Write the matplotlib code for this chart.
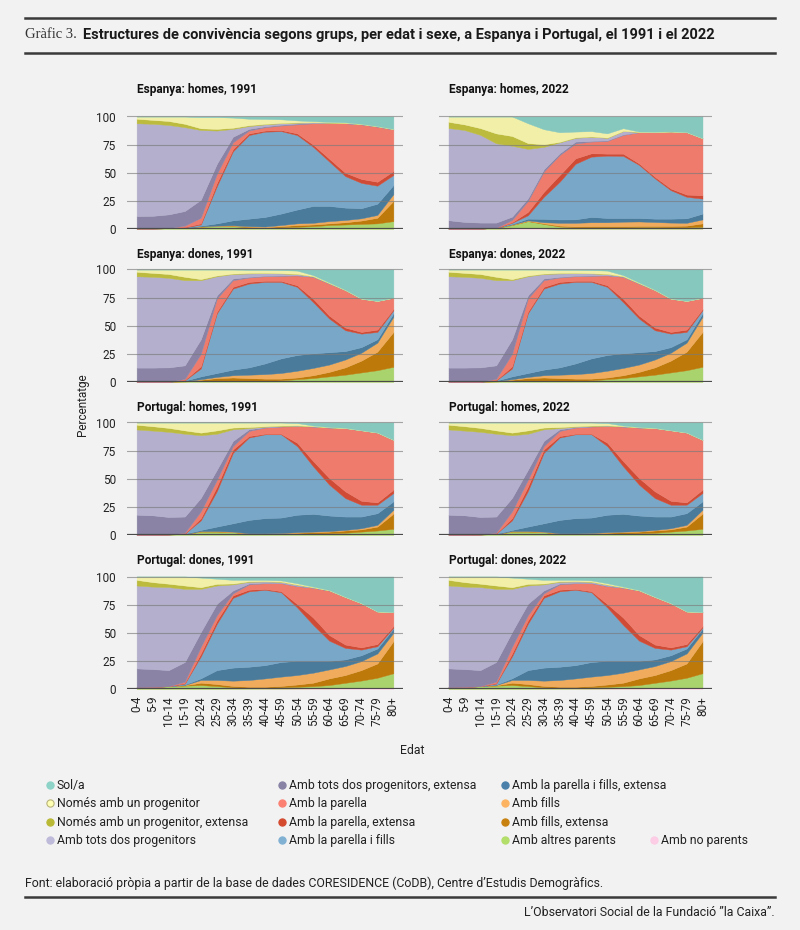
import numpy as np
import matplotlib
matplotlib.use('Agg')
import matplotlib.pyplot as plt
from matplotlib import font_manager
from matplotlib.lines import Line2D

# ---------------- data ----------------
age_labels = ['0-4', '5-9', '10-14', '15-19', '20-24', '25-29', '30-34', '35-39',
              '40-44', '45-59', '50-54', '55-59', '60-64', '65-69', '70-74', '75-79', '80+']

# stacking order, bottom -> top
categories = ['Amb no parents', 'Amb altres parents', 'Amb fills, extensa', 'Amb fills',
              'Amb la parella i fills, extensa', 'Amb la parella i fills',
              'Amb la parella, extensa', 'Amb la parella',
              'Amb tots dos progenitors, extensa', 'Amb tots dos progenitors',
              'Només amb un progenitor, extensa', 'Només amb un progenitor', 'Sol/a']

area_colors = {
    'Sol/a': '#86c8bd', 'Només amb un progenitor': '#f2f0a8',
    'Només amb un progenitor, extensa': '#bcbb3e', 'Amb tots dos progenitors': '#b3afcc',
    'Amb tots dos progenitors, extensa': '#8a83a6', 'Amb la parella': '#ee7b6c',
    'Amb la parella, extensa': '#cf4b35', 'Amb la parella i fills': '#78a7c8',
    'Amb la parella i fills, extensa': '#4a7b9b', 'Amb fills': '#f0ab5c',
    'Amb fills, extensa': '#bd7a0a', 'Amb altres parents': '#a9d36c',
    'Amb no parents': '#f8c8de'}

legend_colors = {
    'Sol/a': '#8dd3c7', 'Només amb un progenitor': '#ffffb3',
    'Només amb un progenitor, extensa': '#b9b936', 'Amb tots dos progenitors': '#bebada',
    'Amb tots dos progenitors, extensa': '#8882a5', 'Amb la parella': '#fb8072',
    'Amb la parella, extensa': '#d44a2f', 'Amb la parella i fills': '#80b1d3',
    'Amb la parella i fills, extensa': '#4a80aa', 'Amb fills': '#fdb462',
    'Amb fills, extensa': '#c8800e', 'Amb altres parents': '#b3de69',
    'Amb no parents': '#fccde5'}

espanya_homes_1991 = {
    'Amb no parents': [0, 0, 0, 0, 0, 0, 0, 0, 0, 0, 0, 0, 0, 0, 0, 0, 0],
    'Amb altres parents': [0.5, 0.5, 0.7, 1, 2, 2.5, 2.5, 1.5, 1, 1.5, 2, 2.5, 3.5, 4, 4.5, 5, 7],
    'Amb fills, extensa': [0, 0, 0, 0, 0.2, 0.3, 0.5, 0.5, 0.5, 1, 1.5, 1.5, 1.5, 2, 3, 5, 18],
    'Amb fills': [0, 0, 0, 0, 0.2, 0.2, 0.3, 0.5, 0.7, 1, 1.5, 1.5, 2, 2, 2, 2.5, 6],
    'Amb la parella i fills, extensa': [0, 0, 0, 0.2, 0.6, 2, 4.4, 6.7, 8.5, 10.2, 12.3, 15, 13.5, 11, 9, 10, 8],
    'Amb la parella i fills': [0, 0, 0, 0.3, 1, 33, 61.3, 74.3, 75.8, 73.3, 66.2, 52.5, 39.5, 28, 22.5, 16, 9],
    'Amb la parella, extensa': [0, 0, 0, 0.2, 1, 3, 2, 1.5, 1, 1, 1.5, 2, 2.5, 3, 3.5, 3.5, 3.5],
    'Amb la parella': [0, 0, 0, 1.3, 5, 8, 6, 2.5, 3, 4, 8, 19, 31.5, 44, 48.5, 49, 37],
    'Amb tots dos progenitors, extensa': [11, 11.2, 12.3, 13, 16, 9, 5, 1.5, 0.8, 0.7, 0.7, 0.3, 0.2, 0.1, 0.1, 0.1, 0.1],
    'Amb tots dos progenitors': [82.5, 81.8, 79.5, 74.5, 62, 29.5, 7, 2.5, 1.7, 1.3, 0.8, 0.5, 0.3, 0.2, 0.2, 0.2, 0.2],
    'Només amb un progenitor, extensa': [4, 3.5, 3.5, 3, 1.5, 1.5, 1, 0.8, 0.5, 0.3, 0.3, 0.2, 0.2, 0.1, 0.1, 0.1, 0.1],
    'Només amb un progenitor': [2, 3, 4, 6.5, 10, 10.5, 9, 5.7, 4.3, 3.2, 1.7, 0.8, 0.5, 0.4, 0.1, 0.1, 0.1],
    'Sol/a': [0, 0, 0, 0, 0.5, 0.5, 1, 2, 2.2, 2.5, 3.5, 4.2, 4.8, 5.2, 6.5, 8.5, 11],
}

espanya_homes_2022 = {
    'Amb no parents': [0, 0, 0, 0, 0.5, 1, 0.5, 0.2, 0.2, 0.2, 0.2, 0.2, 0.2, 0.2, 0.2, 0.2, 0.3],
    'Amb altres parents': [0.3, 0.3, 0.4, 1, 3, 6, 4, 2, 1.3, 1.3, 1.3, 1.3, 1.5, 1.5, 1.3, 1.3, 1.7],
    'Amb fills, extensa': [0, 0, 0, 0, 0.2, 0.2, 0.5, 0.8, 0.8, 1, 1, 1, 1, 1, 1.2, 1.5, 3],
    'Amb fills': [0, 0, 0, 0, 0.3, 0.5, 1, 2.5, 3.2, 3.5, 3.5, 4, 4, 3.5, 3, 2.5, 3.5],
    'Amb la parella i fills, extensa': [0, 0, 0, 0, 0.5, 1.5, 3, 3, 3.1, 4.7, 3.8, 3.3, 3.1, 3, 3.5, 4, 5.2],
    'Amb la parella i fills': [0, 0, 0, 0, 1, 3, 19.6, 33.5, 49.4, 53.6, 55.4, 55.2, 47.2, 35.8, 25.3, 19.1, 13.3],
    'Amb la parella, extensa': [0, 0, 0, 0, 0.5, 3, 4.4, 6, 4.8, 3, 1.8, 2, 1.3, 1.4, 1.5, 2, 3],
    'Amb la parella': [0, 0, 0, 0, 2, 9.7, 18, 17.8, 13.2, 10.4, 11.3, 16.6, 27.7, 39.6, 50.6, 55.4, 50.6],
    'Amb tots dos progenitors, extensa': [7.5, 6, 5.3, 4.7, 3, 2.3, 2, 1.5, 1.7, 0.6, 0.5, 0.4, 0.1, 0.1, 0, 0, 0],
    'Amb tots dos progenitors': [82, 81.7, 78, 70.5, 63, 44, 20, 9.7, 3.3, 3.7, 2.2, 3, 0.2, 0.1, 0.1, 0.1, 0.1],
    'Només amb un progenitor, extensa': [5.5, 5, 6, 8.8, 8.7, 5.2, 2.3, 0.5, 0.5, 0.3, 0.3, 0.2, 0.1, 0.1, 0, 0, 0],
    'Només amb un progenitor': [4.7, 7, 10.3, 15, 17.3, 17.6, 13.4, 8.5, 5.1, 4.7, 3.7, 2.4, 0.2, 0.2, 0.1, 0.1, 0.1],
    'Sol/a': [0, 0, 0, 0, 0, 6, 11.3, 14, 13.4, 13, 15, 10.4, 13.4, 13.5, 13.2, 13.8, 19.2],
}

espanya_dones_1991 = {
    'Amb no parents': [0, 0, 0, 0, 0, 0, 0, 0, 0, 0, 0, 0, 0, 0, 0, 0, 0],
    'Amb altres parents': [0.3, 0.3, 0.3, 0.5, 1, 1.3, 1, 0.8, 1, 1.5, 2.5, 3.5, 5, 6.5, 8.5, 10.5, 13.5],
    'Amb fills, extensa': [0, 0, 0, 0.2, 1, 2.2, 3, 2.7, 2, 1.5, 1.5, 2.5, 4, 6.5, 10.5, 16.5, 31],
    'Amb fills': [0, 0, 0, 0.2, 0.5, 1, 2, 3, 4, 5, 6, 6.5, 6.5, 7, 7, 8, 13.5],
    'Amb la parella i fills, extensa': [0, 0, 0, 0.3, 2.5, 3.5, 5, 6.5, 9.5, 13, 14, 13, 11, 7.5, 5, 3, 3],
    'Amb la parella i fills': [0, 0, 0, 0.3, 7, 53, 72, 74.5, 72.5, 68, 60.6, 45.5, 29.9, 18.5, 12, 6.5, 2.8],
    'Amb la parella, extensa': [0, 0, 0, 0.3, 2, 1.6, 1.6, 1.5, 1, 1, 1.4, 3, 2.6, 2.4, 1.5, 2.1, 1.2],
    'Amb la parella': [0, 0, 0, 1, 11, 11.6, 5.9, 3.9, 4, 4.4, 8.7, 19.5, 28.5, 33.2, 29.5, 25.4, 9.8],
    'Amb tots dos progenitors, extensa': [12.5, 12.5, 12.7, 12, 13, 2.8, 1.5, 0.6, 0.4, 0.3, 0.3, 0.2, 0.1, 0, 0, 0, 0],
    'Amb tots dos progenitors': [81.2, 80.7, 79.6, 75.7, 52.5, 17, 4, 3, 2.3, 1.8, 1, 0.3, 0.3, 0.1, 0.1, 0.1, 0.1],
    'Només amb un progenitor, extensa': [4, 3.5, 3.4, 3, 1, 0.7, 0.4, 0.5, 0.3, 0.2, 0.2, 0.1, 0.1, 0.1, 0, 0, 0],
    'Només amb un progenitor': [2, 3, 4, 6.5, 8.5, 5.3, 3.6, 2.8, 2.8, 2.8, 2.8, 0.9, 0.5, 0.2, 0.2, 0.1, 0.1],
    'Sol/a': [0, 0, 0, 0, 0, 0, 0, 0.2, 0.2, 0.5, 1, 5, 11.5, 18, 25.7, 27.8, 25],
}

portugal_homes_1991 = {
    'Amb no parents': [0, 0, 0, 0, 0, 0, 0, 0, 0, 0, 0, 0, 0, 0, 0, 0, 0],
    'Amb altres parents': [0.3, 0.3, 0.5, 0.8, 3, 3, 2.5, 1, 0.8, 0.8, 1, 1.2, 1.5, 2, 3, 4, 5.5],
    'Amb fills, extensa': [0, 0, 0, 0, 0.2, 0.2, 0.3, 0, 0.2, 0.4, 1, 1.3, 1.5, 2, 2, 3.5, 13.5],
    'Amb fills': [0, 0, 0, 0, 0.3, 0.3, 0.2, 0.5, 0.5, 0.6, 0.5, 0.5, 0.5, 0.5, 1, 1.5, 3.4],
    'Amb la parella i fills, extensa': [0, 0, 0, 0.2, 1, 4, 7.4, 11.9, 13.5, 13.7, 15.5, 15.8, 13.8, 11.9, 10.4, 10.4, 7.5],
    'Amb la parella i fills': [0, 0, 0, 0.2, 8.5, 31.5, 62.6, 73.2, 74.5, 74, 61, 42.2, 27.5, 16.4, 10.5, 7.5, 7.4],
    'Amb la parella, extensa': [0, 0, 0, 0.1, 2, 4, 3, 1.4, 0.5, 0.5, 3, 4.7, 5.9, 6, 3.5, 2.1, 3],
    'Amb la parella': [0, 0, 0, 0.7, 6, 6, 3, 4.5, 5.5, 6.4, 14.7, 30.7, 44.8, 56.2, 62.6, 62, 44.2],
    'Amb tots dos progenitors, extensa': [17.7, 17.2, 15.5, 14.4, 12, 9, 4.6, 1.5, 0.3, 0.2, 0.2, 0.1, 0.1, 0, 0, 0, 0],
    'Amb tots dos progenitors': [75.8, 75.3, 75.7, 73.6, 55.7, 32, 10.4, 1, 0.5, 0.4, 0.4, 0.2, 0.1, 0.1, 0.1, 0.1, 0.1],
    'Només amb un progenitor, extensa': [4.2, 3.9, 3.5, 3, 2.3, 3, 1.5, 1, 0.4, 0.3, 0.2, 0.1, 0.1, 0, 0, 0, 0],
    'Només amb un progenitor': [2, 3.3, 4.8, 7, 9, 7, 4.5, 4, 3.3, 2.7, 2, 0.5, 0.2, 0.2, 0.1, 0.1, 0.1],
    'Sol/a': [0, 0, 0, 0, 0, 0, 0, 0, 0, 0, 0.5, 2.7, 4, 4.7, 6.8, 8.8, 15.3],
}

portugal_dones_1991 = {
    'Amb no parents': [0, 0, 0, 0, 0, 0, 0.2, 0.2, 0.3, 0.3, 0.4, 0.5, 0.5, 0.7, 0.8, 1, 1],
    'Amb altres parents': [1.5, 2, 2.5, 3, 3.5, 2.6, 1.3, 1, 0.9, 1.2, 1.6, 2, 3, 4.8, 6.7, 9, 13],
    'Amb fills, extensa': [0, 0, 0, 0.3, 2.1, 1.8, 1.2, 0.8, 0.8, 1.2, 2, 3.1, 5.9, 6.9, 9.3, 12.7, 28.5],
    'Amb fills': [0, 0, 0, 0.3, 2.4, 3.6, 4.7, 6, 7.4, 8.3, 8.4, 8.9, 8, 8, 8, 8.9, 7.5],
    'Amb la parella i fills, extensa': [0, 0, 0, 0.4, 1.5, 8.8, 11.6, 11.8, 11.8, 13, 12.6, 10.5, 7.6, 5.9, 5.2, 4.4, 3.7],
    'Amb la parella i fills': [0, 0, 0, 0.8, 19.5, 41.2, 62, 67, 67, 62, 47.5, 32, 18, 10.2, 5, 2, 0.8],
    'Amb la parella, extensa': [0, 0, 0, 0.5, 2.6, 3, 2.2, 1.5, 0.8, 1, 3, 6.5, 5, 3, 2, 2, 1.5],
    'Amb la parella': [0, 0, 0, 1.2, 5.9, 4.5, 1.8, 4.7, 5, 7, 16, 26.5, 39.5, 42.2, 39.2, 28.8, 12.3],
    'Amb tots dos progenitors, extensa': [16.8, 15.7, 14.3, 17.5, 13.2, 10.3, 2.6, 0.8, 0.4, 0.3, 0.2, 0.1, 0.1, 0, 0, 0, 0],
    'Amb tots dos progenitors': [73.7, 73.3, 73.8, 65, 38.3, 16.2, 5.4, 1.5, 1.2, 1, 1, 0.3, 0.1, 0.1, 0.1, 0.1, 0],
    'Només amb un progenitor, extensa': [5, 4, 3, 3, 1.5, 1.5, 0.8, 0.5, 0.3, 0.2, 0.2, 0.1, 0.1, 0, 0, 0, 0],
    'Només amb un progenitor': [3, 5, 6.4, 8, 8.5, 4.5, 3.2, 1.2, 1.1, 1, 1.1, 0.5, 0.2, 0.2, 0.1, 0.1, 0.1],
    'Sol/a': [0, 0, 0, 0, 1, 2, 3, 3, 3, 3.5, 6, 9, 12, 18, 23.6, 31, 31.6],
}

# the 2022 panels of these groups show the same curves as 1991 in the reference
espanya_dones_2022 = espanya_dones_1991
portugal_homes_2022 = portugal_homes_1991
portugal_dones_2022 = portugal_dones_1991

panels = [
    ('Espanya: homes, 1991', espanya_homes_1991), ('Espanya: homes, 2022', espanya_homes_2022),
    ('Espanya: dones, 1991', espanya_dones_1991), ('Espanya: dones, 2022', espanya_dones_2022),
    ('Portugal: homes, 1991', portugal_homes_1991), ('Portugal: homes, 2022', portugal_homes_2022),
    ('Portugal: dones, 1991', portugal_dones_1991), ('Portugal: dones, 2022', portugal_dones_2022),
]

legend_columns = [
    ['Sol/a', 'Només amb un progenitor', 'Només amb un progenitor, extensa', 'Amb tots dos progenitors'],
    ['Amb tots dos progenitors, extensa', 'Amb la parella', 'Amb la parella, extensa', 'Amb la parella i fills'],
    ['Amb la parella i fills, extensa', 'Amb fills', 'Amb fills, extensa', 'Amb altres parents'],
    [None, None, None, 'Amb no parents'],
]

# ---------------- fonts ----------------
def has_font(name):
    try:
        font_manager.findfont(font_manager.FontProperties(family=name), fallback_to_default=False)
        return True
    except Exception:
        return False

SANS = 'Roboto' if has_font('Roboto') else 'DejaVu Sans'
NARROW = 'Liberation Sans Narrow' if has_font('Liberation Sans Narrow') else SANS
SERIF = 'Liberation Serif' if has_font('Liberation Serif') else 'DejaVu Serif'
plt.rcParams['font.family'] = [SANS, 'DejaVu Sans']

BG = '#f2f2f2'
W, H = 800, 930
fig = plt.figure(figsize=(W / 100, H / 100), dpi=100, facecolor=BG)

def fx(px):
    return px / W

def fy(py):
    return 1 - py / H

# ---------------- panels ----------------
x = np.arange(len(age_labels))
col_left = [127, 439]
col_width = [276, 273]
row_zero = [229, 382, 535, 689]
unit = 1.125  # px per percentage point
ytop = 102
title_y = [90, 254, 407, 560]

for i, (ptitle, data) in enumerate(panels):
    r, c = divmod(i, 2)
    left = col_left[c]
    width = col_width[c]
    height = unit * ytop
    ax = fig.add_axes([fx(left), fy(row_zero[r]), width / W, height / H])
    ax.set_facecolor('none')
    polys = ax.stackplot(x, *[data[k] for k in categories],
                         colors=[area_colors[k] for k in categories], zorder=2)
    for p, k in zip(polys, categories):
        p.set_edgecolor(area_colors[k])
        p.set_linewidth(0.3)
    for v in [25, 50, 75, 100]:
        ax.axhline(v, color='#7a7a7a', lw=0.8, alpha=0.65, zorder=3)
    ax.axhline(0, color='#4a4a4a', lw=1.6, zorder=4)
    ax.set_xlim(-0.6, 16.6)
    ax.set_ylim(0, ytop)
    for s in ax.spines.values():
        s.set_visible(False)
    ax.set_yticks([0, 25, 50, 75, 100])
    ax.set_xticks(x)
    if c == 0:
        ax.set_yticklabels(['0', '25', '50', '75', '100'])
    else:
        ax.set_yticklabels([])
    if r == 3:
        ax.set_xticklabels(age_labels, rotation=90)
    else:
        ax.set_xticklabels([])
    ax.tick_params(axis='y', length=0, pad=8, labelsize=8.5, labelcolor='#222222')
    ax.tick_params(axis='x', length=0, pad=5, labelsize=8.5, labelcolor='#222222')
    x0_px = left + (0 - (-0.6)) / 17.2 * width
    fig.text(fx(x0_px), fy(title_y[r]), ptitle, fontsize=8.6, fontweight='bold',
             color='#111111', ha='left', va='center')

fig.text(fx(82), fy(405), 'Percentatge', rotation=90, fontsize=8.5, color='#222222',
         ha='center', va='center')
fig.text(fx(412), fy(750), 'Edat', fontsize=8.8, color='#222222', ha='center', va='center')

# ---------------- legend ----------------
leg_mx = [50, 282, 505, 654]
leg_y = [785, 803, 822, 840]
for ci, col in enumerate(legend_columns):
    for ri, name in enumerate(col):
        if name is None:
            continue
        face = legend_colors[name]
        edge = '#b8b37a' if name == 'Només amb un progenitor' else face
        fig.add_artist(Line2D([fx(leg_mx[ci])], [fy(leg_y[ri])], marker='o', ms=5.2,
                              mfc=face, mec=edge, mew=0.8, ls='none',
                              transform=fig.transFigure))
        fig.text(fx(leg_mx[ci] + 7), fy(leg_y[ri]), name, fontsize=8.8, color='#222222',
                 ha='left', va='center')

# ---------------- header / footer ----------------
for yy in [18, 53, 897]:
    fig.add_artist(Line2D([fx(25), fx(775)], [fy(yy), fy(yy)], color='#3a3a3a', lw=1.8,
                          transform=fig.transFigure))

fig.text(fx(25), fy(35), 'Gràfic 3.', family=SERIF, fontsize=10.5, color='#333333',
         ha='left', va='center')
t_title = fig.text(fx(83), fy(35),
                   'Estructures de convivència segons grups, per edat i sexe, a Espanya i Portugal, el 1991 i el 2022',
                   family=NARROW, fontweight='bold', fontsize=10.8, color='#1a1a1a',
                   ha='left', va='center')
t_font = fig.text(fx(25), fy(883),
                  'Font: elaboració pròpia a partir de la base de dades CORESIDENCE (CoDB), Centre d’Estudis Demogràfics.',
                  family=NARROW, fontsize=10, color='#222222', ha='left', va='center')
t_obs = fig.text(fx(775), fy(912), 'L’Observatori Social de la Fundació ”la Caixa”.',
                 family=NARROW, fontsize=10, color='#222222', ha='right', va='center')

# fit the header/footer widths to the reference
fig.canvas.draw()
rend = fig.canvas.get_renderer()
for t, target in [(t_title, 714 - 83), (t_font, 605 - 25), (t_obs, 775 - 525)]:
    w = t.get_window_extent(renderer=rend).width
    if w > 0:
        t.set_fontsize(t.get_fontsize() * target / w)

fig.savefig('out.png', dpi=100, facecolor=BG)
